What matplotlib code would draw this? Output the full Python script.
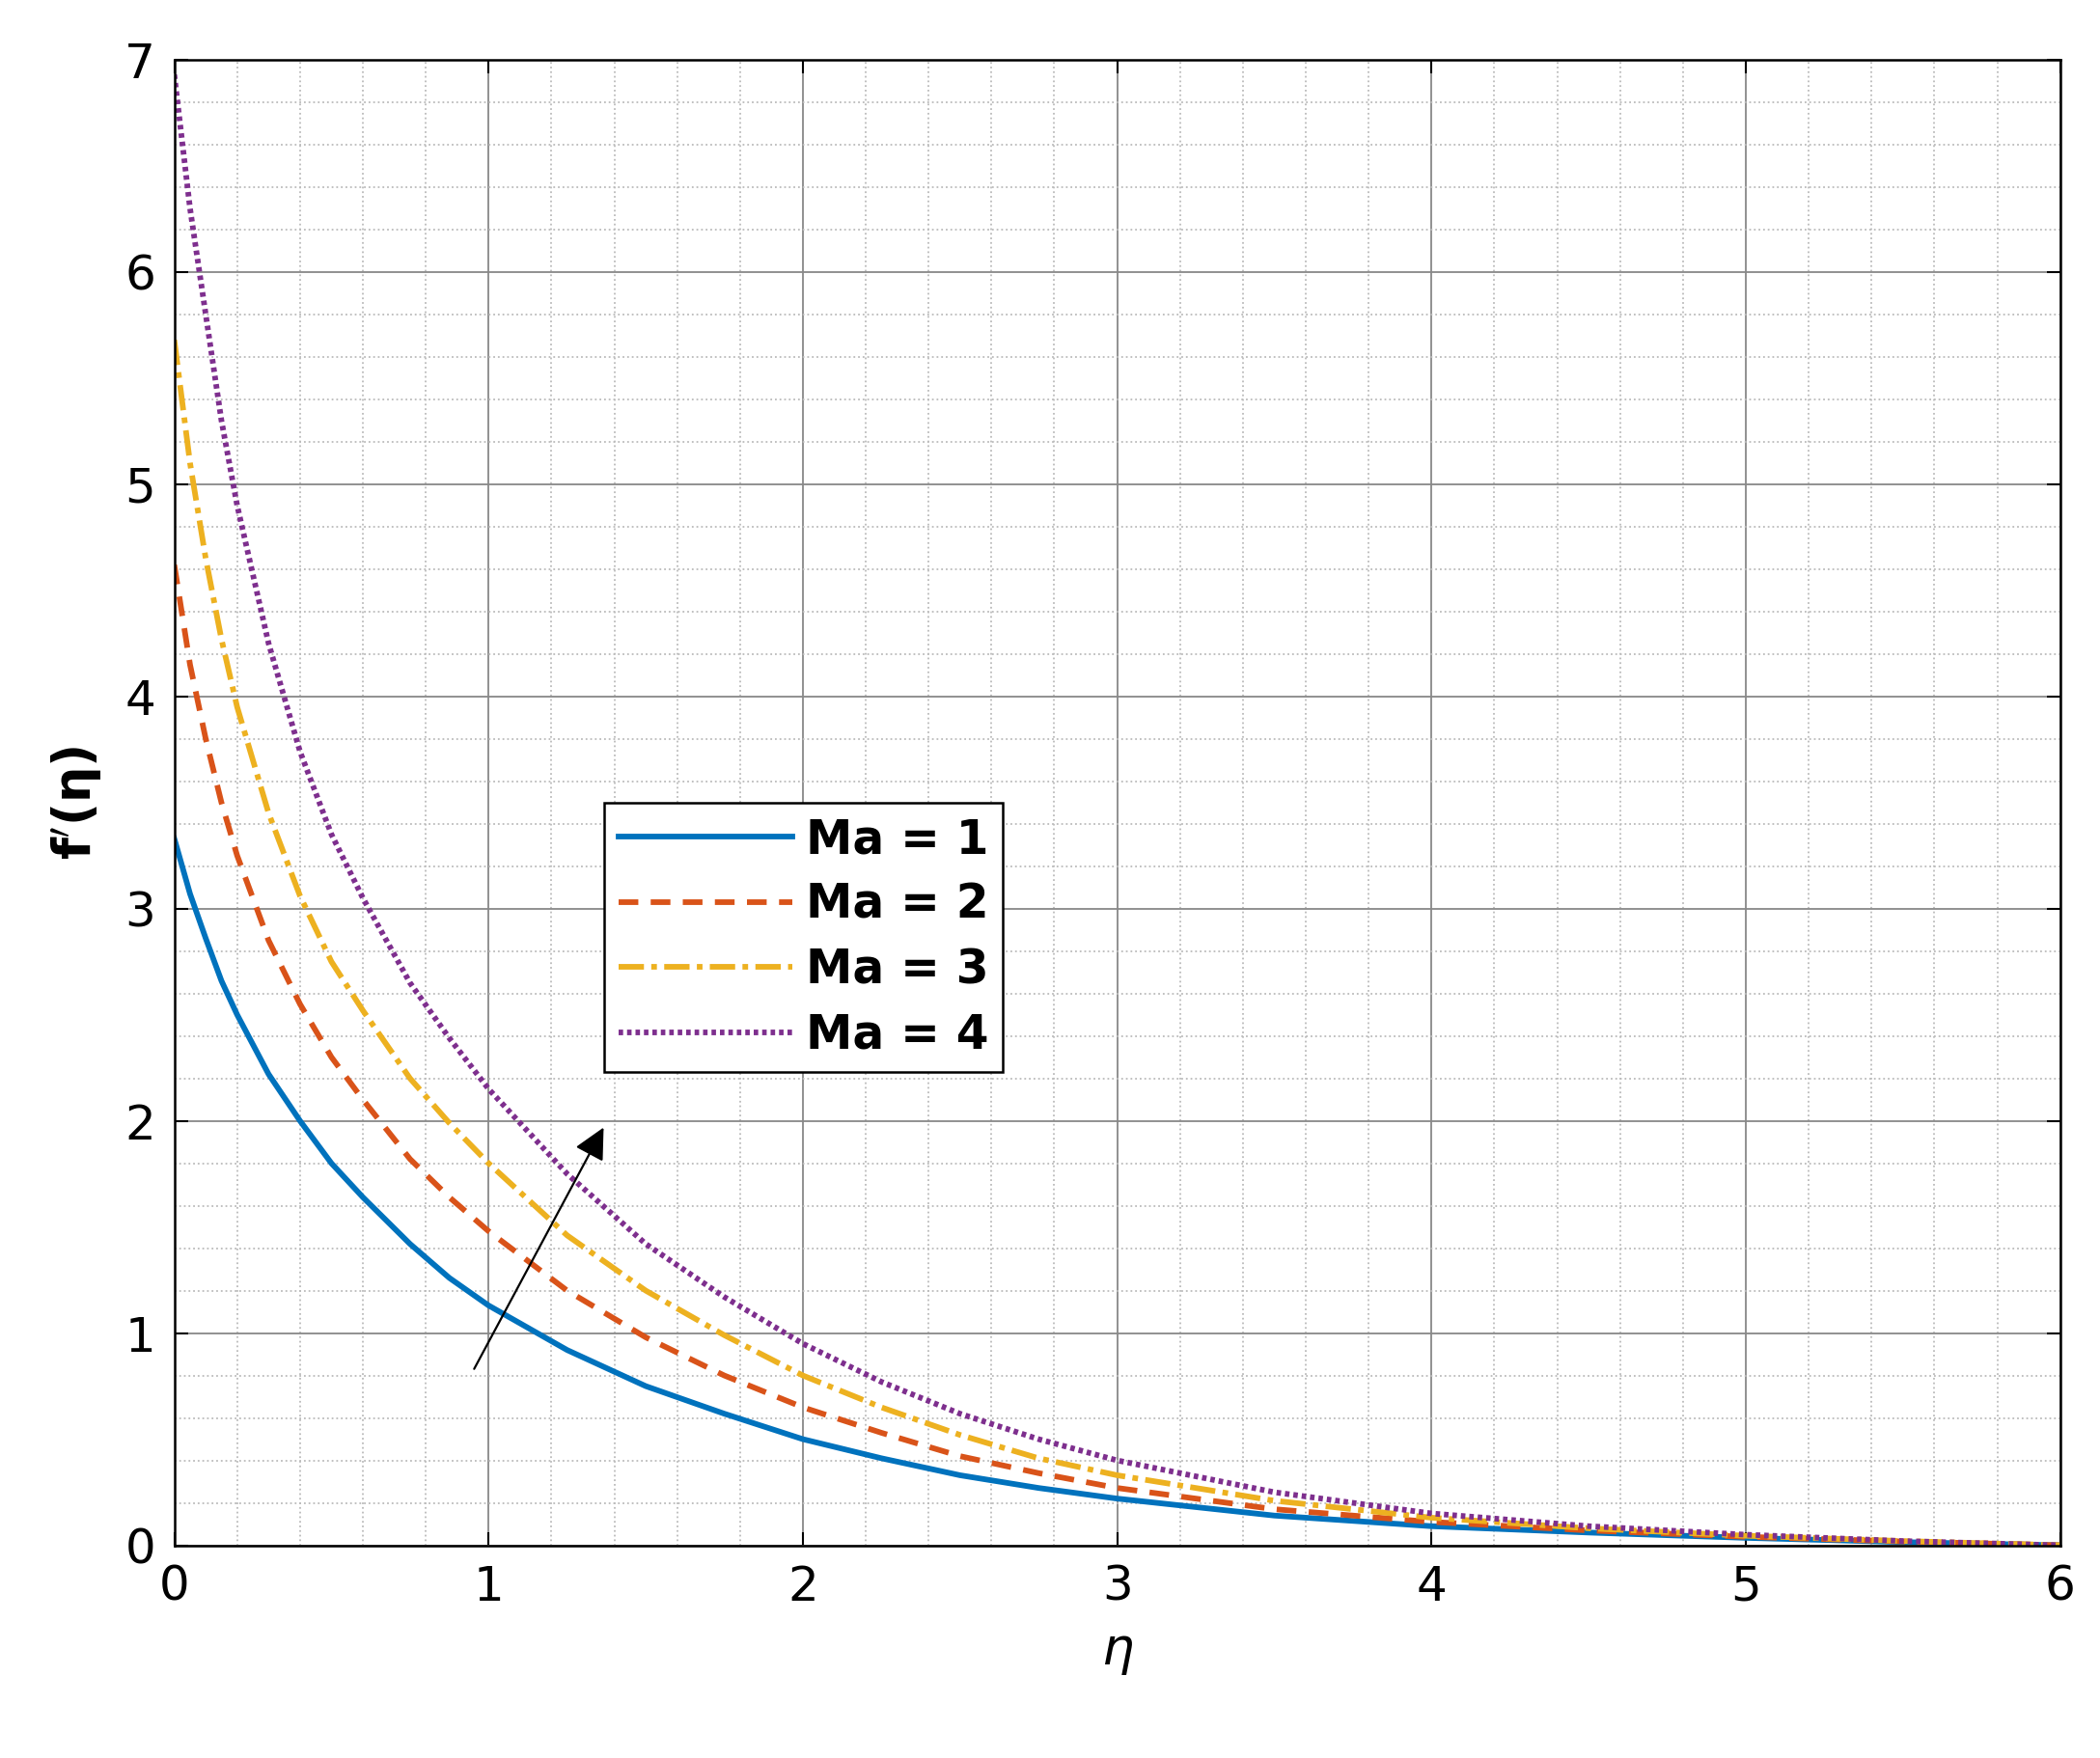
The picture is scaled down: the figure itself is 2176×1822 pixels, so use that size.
import numpy as np
import matplotlib.pyplot as plt
from matplotlib.ticker import MultipleLocator

# ==== DATA ====
eta = [0, 0.05, 0.1, 0.15, 0.2, 0.3, 0.4, 0.5, 0.6, 0.75, 0.875, 1, 1.25, 1.5, 1.75, 2,
       2.25, 2.5, 2.75, 3, 3.5, 4, 4.5, 5, 5.5, 6]
f_ma1 = [3.33, 3.07, 2.86, 2.66, 2.5, 2.22, 2.0, 1.8, 1.64, 1.42, 1.26, 1.13, 0.92, 0.75, 0.62, 0.5,
         0.41, 0.33, 0.27, 0.22, 0.14, 0.09, 0.06, 0.035, 0.015, 0]
f_ma2 = [4.62, 4.15, 3.8, 3.5, 3.25, 2.85, 2.55, 2.3, 2.1, 1.82, 1.64, 1.48, 1.2, 0.98, 0.8, 0.65,
         0.53, 0.42, 0.34, 0.27, 0.17, 0.11, 0.07, 0.04, 0.018, 0]
f_ma3 = [5.68, 5.1, 4.65, 4.27, 3.95, 3.45, 3.06, 2.75, 2.52, 2.2, 1.99, 1.8, 1.46, 1.2, 0.99, 0.8,
         0.65, 0.52, 0.41, 0.33, 0.21, 0.13, 0.08, 0.045, 0.02, 0]
f_ma4 = [6.93, 6.3, 5.8, 5.3, 4.9, 4.25, 3.74, 3.35, 3.05, 2.65, 2.39, 2.15, 1.75, 1.42, 1.17, 0.95,
         0.77, 0.62, 0.5, 0.4, 0.25, 0.15, 0.09, 0.05, 0.02, 0]
labels = ['Ma = 1', 'Ma = 2', 'Ma = 3', 'Ma = 4']

fig = plt.figure(figsize=(21.76, 18.22), dpi=100)
ax = fig.add_axes([0.083, 0.121, 0.898, 0.845])

ax.plot(eta, f_ma1, color='#0072BD', lw=4.2, ls='-', label=labels[0])
ax.plot(eta, f_ma2, color='#D95319', lw=4.2, ls=(0, (3.5, 2.2)), label=labels[1])
ax.plot(eta, f_ma3, color='#EDB120', lw=4.2, ls=(0, (4.5, 1.3, 1, 1.3)), label=labels[2])
ax.plot(eta, f_ma4, color='#7E2F8E', lw=4.2, ls=(0, (0.8, 0.7)), label=labels[3])

ax.set_xlim(0, 6)
ax.set_ylim(0, 7)
ax.xaxis.set_major_locator(MultipleLocator(1))
ax.yaxis.set_major_locator(MultipleLocator(1))
ax.xaxis.set_minor_locator(MultipleLocator(0.2))
ax.yaxis.set_minor_locator(MultipleLocator(0.2))
ax.grid(True, which='major', color='#888888', lw=1.3)
ax.grid(True, which='minor', color='#bbbbbb', ls=':', lw=1.3)
ax.tick_params(which='both', direction='in', top=True, right=True, labelsize=36)
ax.tick_params(which='major', length=10, width=1.5, pad=14)
ax.tick_params(which='minor', length=0)
for s in ax.spines.values():
    s.set_linewidth(1.8)

ax.set_xlabel(r'$\eta$', fontsize=38, labelpad=12)
ax.set_ylabel(r"$\mathbf{f'(\eta)}$", fontsize=38, labelpad=15)

# Arrow showing increasing Ma
ax.annotate('', xy=(1.37, 1.98), xytext=(0.95, 0.82),
            arrowprops=dict(arrowstyle='-|>', color='black', lw=1.6, mutation_scale=50))

leg = ax.legend(loc='upper left', bbox_to_anchor=(0.228, 0.5),
                prop={'weight': 'bold', 'size': 35}, handlelength=3.7,
                handletextpad=0.3, fancybox=False, framealpha=1, edgecolor='black',
                borderpad=0.3, labelspacing=0.4, borderaxespad=0)
leg.get_frame().set_linewidth(1.8)

fig.savefig('out.png', dpi=100)
